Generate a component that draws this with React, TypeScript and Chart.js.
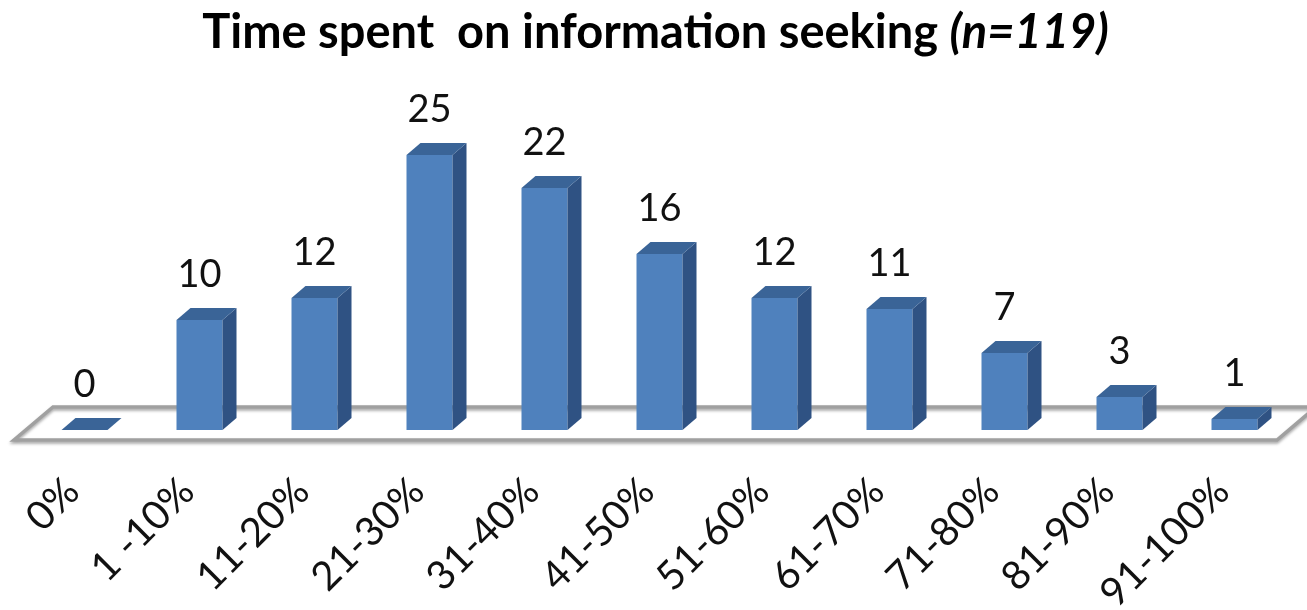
import React, { useEffect, useRef } from "react";
import { Chart, registerables } from "chart.js";

Chart.register(...registerables);

const categories = ["0%", "1 -10%", "11-20%", "21-30%", "31-40%", "41-50%", "51-60%", "61-70%", "71-80%", "81-90%", "91-100%"];
const counts = [0, 10, 12, 25, 22, 16, 12, 11, 7, 3, 1];
const titleMain = "Time spent  on information seeking ";
const titleItalic = "(n=119)";
const yMax = 30;

const DX = 14;
const DY = 12;
const FRONT = "#4F81BD";
const SIDE = "#2F5283";
const TOP = "#3A6497";
const FONT = "Lato";

const floorPlugin = {
  id: "floor3d",
  beforeDatasetsDraw(chart: any) {
    const { ctx, chartArea } = chart;
    const { left, right, bottom } = chartArea;
    ctx.save();
    ctx.beginPath();
    ctx.moveTo(left - 13, bottom + 10);
    ctx.lineTo(right - 15, bottom + 10);
    ctx.lineTo(right + 24, bottom - 23);
    ctx.lineTo(left + 26, bottom - 23);
    ctx.closePath();
    ctx.fillStyle = "#ffffff";
    ctx.fill();
    ctx.shadowColor = "rgba(0,0,0,0.35)";
    ctx.shadowBlur = 3;
    ctx.shadowOffsetY = 2;
    ctx.strokeStyle = "#A0A0A0";
    ctx.lineWidth = 3.5;
    ctx.stroke();
    ctx.restore();
  },
};

const barsPlugin = {
  id: "bars3d",
  afterDatasetsDraw(chart: any) {
    const { ctx } = chart;
    const meta = chart.getDatasetMeta(0);
    ctx.save();
    meta.data.forEach((el: any, i: number) => {
      const { x, y, base, width } = el.getProps(["x", "y", "base", "width"], true);
      const l = x - width / 2;
      const r = x + width / 2;
      // side face
      ctx.beginPath();
      ctx.moveTo(r, y);
      ctx.lineTo(r + DX, y - DY);
      ctx.lineTo(r + DX, base - DY);
      ctx.lineTo(r, base);
      ctx.closePath();
      ctx.fillStyle = SIDE;
      ctx.fill();
      // top face
      ctx.beginPath();
      ctx.moveTo(l, y);
      ctx.lineTo(l + DX, y - DY);
      ctx.lineTo(r + DX, y - DY);
      ctx.lineTo(r, y);
      ctx.closePath();
      ctx.fillStyle = TOP;
      ctx.fill();
      // value label
      ctx.fillStyle = "#111111";
      ctx.font = `38px ${FONT}`;
      ctx.textAlign = "center";
      ctx.textBaseline = "alphabetic";
      ctx.fillText(String(counts[i]), x, y - 33);
    });
    ctx.restore();
  },
};

const titlePlugin = {
  id: "richTitle",
  afterDraw(chart: any) {
    const { ctx, width } = chart;
    ctx.save();
    const f1 = `bold 47px ${FONT}`;
    const f2 = `italic bold 47px ${FONT}`;
    ctx.font = f1;
    const w1 = ctx.measureText(titleMain).width;
    ctx.font = f2;
    const w2 = ctx.measureText(titleItalic).width;
    const x0 = width / 2 - (w1 + w2) / 2 + 2;
    const yb = 48;
    ctx.fillStyle = "#000000";
    ctx.textAlign = "left";
    ctx.textBaseline = "alphabetic";
    ctx.font = f1;
    ctx.fillText(titleMain, x0, yb);
    ctx.font = f2;
    ctx.fillText(titleItalic, x0 + w1, yb);
    ctx.restore();
  },
};

export default function App() {
  const ref = useRef<HTMLCanvasElement | null>(null);

  useEffect(() => {
    let chart: Chart | null = null;
    let cancelled = false;
    const make = () => {
      if (cancelled || !ref.current) return;
      chart = new Chart(ref.current, {
        type: "bar",
        data: {
          labels: categories,
          datasets: [
            {
              data: counts,
              backgroundColor: FRONT,
              borderWidth: 0,
              barPercentage: 0.4,
              categoryPercentage: 1,
            },
          ],
        },
        options: {
          animation: false,
          responsive: false,
          layout: { padding: { top: 100, left: 27, right: 15, bottom: 0 } },
          plugins: {
            legend: { display: false },
            tooltip: { enabled: false },
            title: { display: false },
          },
          scales: {
            x: {
              grid: { display: false, drawTicks: false },
              border: { display: false },
              ticks: {
                autoSkip: false,
                minRotation: 45,
                maxRotation: 45,
                padding: 38,
                labelOffset: -12,
                color: "#111111",
                font: { family: FONT, size: 40 },
              },
              afterFit: (s: any) => {
                s.height = 180;
                s.paddingLeft = 0;
                s.paddingRight = 0;
              },
            },
            y: { display: false, min: 0, max: yMax },
          },
        },
        plugins: [floorPlugin, barsPlugin, titlePlugin],
      });
    };
    (document as any).fonts
      .load(`40px ${FONT}`)
      .then(() => (document as any).fonts.load(`bold 47px ${FONT}`))
      .then(() => (document as any).fonts.load(`italic bold 47px ${FONT}`))
      .then(make, make);
    return () => {
      cancelled = true;
      if (chart) chart.destroy();
    };
  }, []);

  return (
    <div style={{ position: "fixed", left: 0, top: 0, width: 1307, height: 610, background: "#fff" }}>
      <canvas ref={ref} width={1307} height={610} style={{ width: 1307, height: 610, display: "block" }} />
    </div>
  );
}
